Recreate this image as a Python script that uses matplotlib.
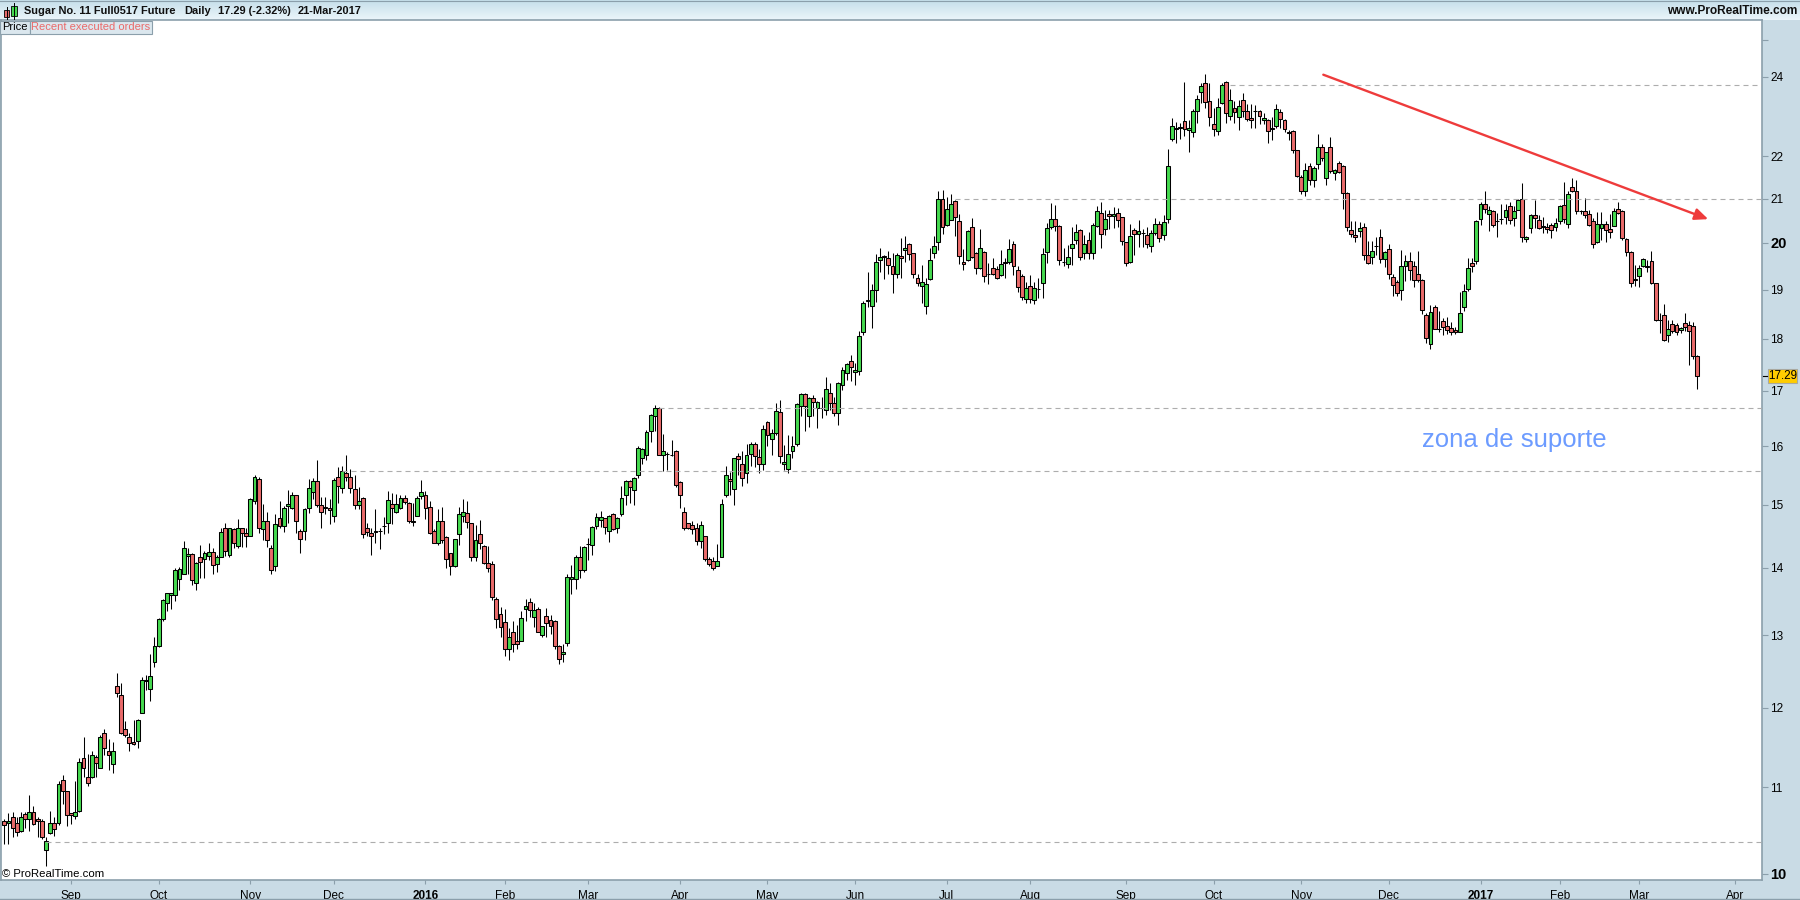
import numpy as np
import matplotlib
matplotlib.use('Agg')
import matplotlib.pyplot as plt
from matplotlib.colors import LinearSegmentedColormap
from matplotlib.patches import Rectangle
from matplotlib.ticker import NullLocator

plt.rcParams['font.family'] = ['Liberation Sans', 'DejaVu Sans']

# Daily candles, oldest first
opens = [
    10.60,10.58,10.64,10.58,10.48,10.68,10.62,10.71,10.62,10.60,
    10.27,10.46,10.58,10.58,11.09,10.95,10.69,10.66,10.72,11.36,
    11.12,11.12,11.37,11.24,11.67,11.44,11.29,12.30,12.17,11.72,
    11.62,11.56,11.57,11.94,12.36,12.25,12.62,12.84,13.23,13.47,
    13.58,13.58,13.82,13.91,14.18,14.21,13.77,14.16,14.14,14.18,
    14.24,14.05,14.16,14.63,14.20,14.60,14.33,14.62,14.54,14.49,
    15.06,15.43,14.60,14.74,14.30,14.02,14.79,14.65,14.98,14.94,
    15.16,14.57,14.57,14.94,15.22,15.40,15.00,14.96,14.95,14.82,
    15.47,15.28,15.54,15.47,15.26,15.00,15.11,14.62,14.54,14.56,
    14.57,14.65,14.70,15.01,14.88,14.94,15.12,15.03,14.74,14.82,
    15.14,15.16,14.96,14.57,14.38,14.73,14.48,14.22,14.02,14.52,
    14.82,14.87,14.70,14.16,14.52,14.34,14.07,14.05,13.52,13.30,
    13.19,12.81,13.05,12.91,12.92,13.38,13.48,13.26,13.38,13.00,
    13.28,13.22,13.20,12.84,12.73,12.89,13.82,13.82,14.16,13.97,
    14.37,14.36,14.66,14.76,14.78,14.57,14.85,14.62,14.85,15.16,
    15.40,15.25,15.50,15.79,15.85,16.27,16.53,16.69,15.84,15.86,
    15.85,15.92,15.38,14.88,14.70,14.67,14.62,14.42,14.49,14.13,
    14.10,14.02,14.16,15.17,15.43,15.26,15.82,15.69,15.53,15.86,
    16.03,15.81,15.69,16.43,16.12,16.23,16.61,15.69,15.60,15.91,
    16.03,16.72,16.95,16.53,16.86,16.68,16.68,16.65,16.97,16.77,
    16.59,17.12,17.33,17.56,17.35,17.37,18.14,18.77,18.67,18.99,
    19.62,19.70,19.68,19.50,19.32,19.71,19.84,19.97,19.77,19.25,
    19.07,18.67,19.22,19.78,20.03,21.00,20.39,20.52,20.94,20.48,
    19.58,19.63,20.35,19.78,19.46,19.80,19.34,19.46,19.43,19.30,
    19.56,19.58,19.97,19.41,19.29,18.80,19.07,18.78,19.01,19.13,
    19.80,20.36,20.53,20.38,19.59,19.54,19.88,20.06,20.29,19.79,
    20.07,19.79,20.38,20.68,20.31,20.64,20.60,20.66,20.57,20.01,
    19.58,20.29,20.20,20.21,20.17,19.93,20.22,20.42,20.17,20.53,
    22.42,22.68,22.70,22.86,22.63,22.58,23.11,23.60,23.85,23.37,
    22.78,22.61,23.33,23.88,23.00,23.20,22.98,23.39,23.13,22.93,
    23.12,23.11,22.88,22.88,22.67,22.73,23.10,22.88,22.58,22.61,
    22.16,21.50,21.17,21.77,21.44,21.81,22.23,21.47,22.23,21.59,
    21.83,21.76,21.12,20.28,20.17,20.27,20.35,19.73,19.69,19.94,
    20.13,19.64,19.86,19.27,19.17,18.99,19.51,19.60,19.49,19.32,
    19.21,18.48,17.89,18.64,18.20,18.35,18.25,18.21,18.17,18.13,
    18.64,19.01,19.56,19.60,20.53,20.87,20.64,20.72,20.49,20.54,
    20.58,20.83,20.56,20.74,20.99,20.08,20.34,20.63,20.51,20.37,
    20.35,20.39,20.35,20.49,20.85,20.43,21.26,21.17,20.72,20.71,
    20.64,20.48,20.02,20.34,20.41,20.32,20.38,20.75,20.71,20.09,
    19.80,19.22,19.28,19.49,19.49,19.60,19.13,18.38,18.47,18.07,
    18.29,18.27,18.17,18.31,18.27,18.25,17.67,
]
highs = [
    10.62,10.69,10.71,10.64,10.71,10.71,10.91,10.78,10.64,10.62,
    10.41,10.72,10.64,11.07,11.15,10.96,10.69,11.07,11.36,11.62,
    11.41,11.45,11.39,11.65,11.72,11.60,11.56,12.47,12.33,11.83,
    11.67,11.84,11.85,12.41,12.44,12.73,12.98,13.25,13.52,13.62,
    13.62,13.99,14.01,14.41,14.31,14.22,14.09,14.35,14.26,14.39,
    14.31,14.20,14.62,14.70,14.63,14.63,14.77,14.63,14.63,15.11,
    15.50,15.47,15.02,14.89,14.35,14.85,15.06,14.98,15.25,15.21,
    15.17,14.60,14.95,15.43,15.45,15.76,15.13,15.13,15.10,15.45,
    15.63,15.65,15.85,15.60,15.50,15.30,15.13,14.70,14.62,14.93,
    14.62,14.80,15.23,15.20,15.18,15.17,15.17,15.05,15.03,15.15,
    15.42,15.23,15.07,14.60,14.93,14.96,14.49,14.23,14.45,14.96,
    15.10,15.07,14.70,14.67,14.76,14.36,14.34,14.11,13.55,13.41,
    13.38,13.10,13.20,13.14,13.35,13.52,13.54,13.46,13.41,13.13,
    13.39,13.29,13.22,12.86,12.88,13.90,14.04,14.19,14.34,14.34,
    14.47,14.66,14.87,14.90,14.79,14.84,14.87,14.80,15.31,15.41,
    15.41,15.46,16.00,15.96,16.29,16.57,16.74,16.70,16.22,15.90,
    16.11,15.94,15.40,14.96,14.71,14.74,14.70,14.73,14.50,14.17,
    14.16,14.37,15.10,15.65,15.55,15.80,15.88,15.91,16.03,16.07,
    16.07,15.95,16.37,16.45,16.30,16.77,16.84,16.02,16.19,16.17,
    16.77,16.96,16.96,16.88,16.92,16.81,16.89,17.27,17.15,16.88,
    17.17,17.45,17.53,17.68,17.53,18.15,18.77,19.37,19.12,19.75,
    19.90,19.74,19.82,19.78,19.78,20.12,20.16,19.99,19.79,19.33,
    19.52,19.25,19.90,20.15,21.17,21.20,21.03,21.11,20.96,20.65,
    19.87,20.29,20.55,19.80,20.32,19.82,19.56,19.67,19.50,19.85,
    19.67,20.09,20.05,19.50,19.32,19.15,19.30,19.17,19.24,19.88,
    20.44,20.89,20.86,20.40,19.88,19.95,20.35,20.42,20.31,20.17,
    20.25,20.44,20.82,20.92,20.74,20.74,20.80,20.78,20.58,20.03,
    20.42,20.33,20.51,20.31,20.36,20.29,20.55,20.48,20.62,22.17,
    22.93,22.85,22.82,23.87,22.89,23.16,23.53,23.85,24.07,23.85,
    23.20,23.45,23.85,23.90,23.68,23.37,23.40,23.57,23.29,23.31,
    23.27,23.14,23.08,22.91,22.97,23.29,23.18,22.91,22.63,22.65,
    22.16,21.54,21.83,21.83,21.76,22.55,22.29,22.11,22.47,21.70,
    21.88,21.78,21.15,20.48,20.48,20.46,20.44,20.04,20.04,20.13,
    20.31,19.82,19.98,19.34,19.21,19.84,19.73,19.80,19.61,19.82,
    19.23,18.52,18.68,18.69,18.55,18.41,18.44,18.34,18.24,18.95,
    19.12,19.67,19.67,20.51,20.93,21.18,20.83,20.74,20.67,20.88,
    20.88,20.91,20.82,20.99,21.35,20.15,20.64,20.97,20.63,20.58,
    20.44,20.44,20.56,20.85,21.39,21.18,21.47,21.43,20.74,21.01,
    20.74,20.55,20.69,20.69,20.48,20.64,20.78,20.92,20.74,20.11,
    19.83,19.52,19.52,19.67,19.63,19.83,19.14,18.52,18.70,18.38,
    18.38,18.32,18.24,18.52,18.36,18.34,17.68,
]
lows = [
    10.34,10.34,10.41,10.43,10.47,10.52,10.48,10.55,10.41,10.39,
    10.09,10.45,10.43,10.55,10.80,10.54,10.57,10.62,10.71,11.12,
    11.02,11.11,11.12,11.23,11.39,11.21,11.17,12.14,11.66,11.62,
    11.44,11.52,11.48,11.94,12.24,12.09,12.55,12.83,13.21,13.35,
    13.38,13.50,13.66,13.90,13.91,13.73,13.66,13.84,13.84,14.12,
    13.90,13.93,14.16,14.18,14.16,14.31,14.31,14.32,14.32,14.49,
    15.01,14.54,14.43,14.32,13.90,13.95,14.63,14.56,14.70,14.93,
    14.54,14.23,14.43,14.86,15.10,14.96,14.63,14.85,14.69,14.72,
    15.03,15.20,15.40,15.20,14.93,14.93,14.47,14.49,14.19,14.38,
    14.29,14.52,14.54,14.69,14.86,14.93,15.02,14.71,14.66,14.81,
    15.10,14.77,14.52,14.38,14.36,14.38,14.00,13.89,14.01,14.35,
    14.72,14.62,14.11,14.10,14.29,14.05,13.93,13.51,13.10,12.97,
    12.71,12.65,12.76,12.81,12.92,13.20,13.26,13.12,13.04,12.98,
    12.98,13.02,12.81,12.60,12.62,12.84,13.60,13.67,13.84,13.93,
    14.12,14.19,14.60,14.64,14.52,14.40,14.59,14.54,14.82,15.00,
    15.03,15.00,15.45,15.69,15.75,16.08,16.27,15.84,15.57,15.58,
    15.83,15.30,14.95,14.59,14.60,14.52,14.36,14.30,14.10,14.02,
    13.97,14.02,14.16,15.13,15.17,14.99,15.50,15.32,15.37,15.65,
    15.63,15.53,15.59,16.01,15.85,16.19,15.70,15.59,15.53,15.79,
    16.00,16.54,16.27,16.34,16.54,16.32,16.50,16.56,16.65,16.53,
    16.38,17.02,17.21,17.19,17.11,17.30,18.07,18.65,18.22,18.75,
    19.37,19.23,19.33,18.94,19.24,19.24,19.58,19.63,19.25,19.07,
    18.73,18.50,19.20,19.67,19.85,20.19,20.37,20.51,20.15,19.54,
    19.41,19.60,19.67,19.33,19.44,19.15,19.11,19.30,19.22,19.28,
    19.25,19.55,19.30,18.96,18.78,18.72,18.72,18.71,18.83,18.83,
    19.57,20.32,20.27,19.53,19.50,19.46,19.52,19.98,19.62,19.66,
    19.66,19.64,20.36,19.89,20.18,20.31,20.33,20.36,19.95,19.51,
    19.57,19.73,19.92,19.92,19.90,19.80,20.17,20.03,20.07,20.44,
    22.37,22.33,22.43,22.49,22.11,22.48,22.81,23.33,23.20,22.75,
    22.50,22.52,23.31,22.81,22.90,22.81,22.63,22.97,22.86,22.68,
    22.68,22.78,22.78,22.33,22.40,22.68,22.68,22.60,22.40,22.08,
    21.50,21.10,21.05,21.31,21.26,21.70,21.88,21.31,21.59,21.44,
    21.59,20.76,20.27,20.13,20.03,20.13,19.62,19.54,19.55,19.74,
    19.56,19.47,19.23,18.86,18.86,18.78,19.18,19.20,19.05,19.15,
    18.50,17.92,17.81,18.19,18.14,18.07,18.09,18.07,18.10,18.13,
    18.55,18.97,19.38,19.54,20.39,20.67,20.27,20.35,20.13,20.43,
    20.43,20.41,20.37,20.74,20.03,20.02,20.22,20.34,20.31,20.23,
    20.23,20.10,20.26,20.41,20.44,20.34,21.15,20.64,20.65,20.55,
    20.37,19.88,20.00,20.07,20.03,20.11,20.37,20.65,20.07,19.72,
    19.06,19.07,19.06,19.48,19.38,19.11,18.35,18.12,17.95,17.93,
    18.12,18.07,18.12,18.15,17.49,17.61,17.03,
]
closes = [
    10.55,10.60,10.52,10.47,10.65,10.62,10.71,10.57,10.60,10.41,
    10.37,10.58,10.51,11.04,10.96,10.67,10.67,10.71,11.31,11.24,
    11.05,11.40,11.30,11.63,11.49,11.39,11.45,12.20,11.67,11.65,
    11.55,11.53,11.84,12.38,12.37,12.43,12.85,13.23,13.51,13.61,
    13.61,13.96,13.98,14.31,14.21,13.81,14.07,14.09,14.23,14.24,
    14.04,14.16,14.56,14.26,14.62,14.39,14.62,14.54,14.49,15.10,
    15.46,14.62,14.73,14.43,13.96,14.68,14.66,14.94,15.01,15.16,
    14.74,14.44,14.93,15.28,15.40,14.99,14.89,14.95,14.92,15.41,
    15.31,15.57,15.47,15.28,14.99,15.06,14.52,14.56,14.49,14.57,
    14.57,14.66,15.08,14.94,15.01,15.12,15.04,14.73,14.72,15.12,
    15.21,14.94,14.54,14.39,14.73,14.43,14.13,14.02,14.44,14.85,
    14.89,14.72,14.16,14.43,14.39,14.07,13.99,13.56,13.23,13.11,
    12.81,12.97,12.88,12.88,13.25,13.42,13.37,13.37,13.05,13.13,
    13.18,13.13,12.84,12.66,12.76,13.85,13.85,14.16,13.97,14.32,
    14.37,14.64,14.80,14.80,14.64,14.82,14.60,14.79,15.11,15.40,
    15.30,15.45,15.96,15.95,16.25,16.55,16.68,15.85,15.92,15.87,
    15.84,15.33,15.16,14.62,14.62,14.60,14.42,14.67,14.13,14.05,
    13.99,14.10,15.01,15.50,15.40,15.79,15.78,15.45,15.85,16.03,
    15.82,15.69,16.30,16.20,16.23,16.63,15.82,15.72,15.86,16.00,
    16.75,16.95,16.72,16.86,16.79,16.79,16.69,17.04,16.77,16.59,
    17.14,17.39,17.51,17.46,17.39,18.05,18.72,18.78,18.99,19.58,
    19.70,19.71,19.52,19.32,19.73,19.67,19.90,19.75,19.32,19.14,
    19.16,19.12,19.63,19.94,21.00,20.35,20.77,20.87,20.58,19.72,
    19.54,20.27,19.69,19.46,19.89,19.28,19.33,19.34,19.25,19.54,
    19.58,19.87,19.51,19.06,18.85,19.03,18.80,19.03,19.02,19.75,
    20.34,20.53,20.38,19.62,19.58,19.70,19.97,20.24,19.69,19.97,
    19.77,20.40,20.71,20.20,20.53,20.60,20.64,20.50,20.04,19.56,
    20.15,20.20,20.27,20.22,19.97,20.22,20.42,20.11,20.46,21.76,
    22.73,22.67,22.71,22.66,22.68,23.11,23.42,23.77,23.34,22.98,
    22.66,23.23,23.78,23.07,23.39,23.10,23.25,23.13,22.91,22.88,
    23.12,23.00,22.93,22.61,22.68,23.18,22.91,22.66,22.57,22.14,
    21.53,21.18,21.68,21.44,21.71,22.23,21.95,22.09,21.64,21.68,
    21.62,21.12,20.35,20.19,20.13,20.33,19.73,19.56,19.82,19.93,
    19.64,19.80,19.34,19.09,18.93,19.49,19.60,19.42,19.21,19.21,
    18.58,18.01,18.54,18.19,18.20,18.23,18.17,18.13,18.13,18.52,
    18.97,19.46,19.49,20.49,20.87,20.76,20.74,20.39,20.48,20.53,
    20.74,20.51,20.72,20.97,20.13,20.13,20.63,20.56,20.33,20.36,
    20.31,20.28,20.44,20.83,20.53,21.10,21.17,20.72,20.72,20.62,
    20.39,19.97,20.43,20.41,20.28,20.24,20.71,20.66,20.11,19.80,
    19.13,19.21,19.45,19.65,19.48,19.13,18.38,18.38,17.97,18.19,
    18.15,18.13,18.21,18.23,18.15,17.67,17.29,
]

# Bar numbers where each month starts
month_pos = [16, 37, 59, 79, 101, 120, 140, 162, 183, 204, 226, 246, 269, 290, 311, 332, 354, 373, 392, 415]
month_lbl = ['Sep', 'Oct', 'Nov', 'Dec', '2016', 'Feb', 'Mar', 'Apr', 'May', 'Jun', 'Jul', 'Aug',
             'Sep', 'Oct', 'Nov', 'Dec', '2017', 'Feb', 'Mar', 'Apr']
price_ticks = [10, 11, 12, 13, 14, 15, 16, 17, 18, 19, 20, 21, 22, 24, 25]
price_lbl = ['10', '11', '12', '13', '14', '15', '16', '17', '18', '19', '20', '21', '22', '24', '']

# Horizontal levels: price, bar where the line starts
levels = [23.78, 20.99, 16.68, 15.57, 10.36]
level_start = [294, 228, 157, 81, 10]

last_price = 17.29

GREEN = '#45d94f'
RED = '#e96b6b'
STRIP = '#c9dbe5'
EDGE = '#8b9fab'

opens = np.array(opens)
highs = np.array(highs)
lows = np.array(lows)
closes = np.array(closes)
idx = np.arange(len(opens))

fig = plt.figure(figsize=(18, 9), dpi=100, facecolor=STRIP)

# Window chrome behind the chart, in pixels
chrome = fig.add_axes([0, 0, 1, 1], zorder=0)
cmap = LinearSegmentedColormap.from_list('head', ['#c6dfea', '#eaf5fa'])
chrome.imshow(np.linspace(0, 1, 20).reshape(-1, 1), cmap=cmap, aspect='auto', extent=(0, 1800, 20, 0))
chrome.set_xlim(0, 1800)
chrome.set_ylim(900, 0)
chrome.axis('off')

# Main price panel
ax = fig.add_axes([1 / 1800, 20 / 900, 1761 / 1800, 860 / 900], zorder=1)
ax.set_facecolor('white')
ax.set_yscale('log')
ax.set_xlim(-0.79, 421.5)
ax.set_ylim(9.934, 25.55)

ax.vlines(idx, lows, highs, color='black', lw=0.75, zorder=2)
up = closes >= opens
ax.bar(idx, np.abs(closes - opens), bottom=np.minimum(opens, closes), width=0.92,
       color=[GREEN if u else RED for u in up], edgecolor='black', linewidth=0.75, zorder=2.5)

for price, start in zip(levels, level_start):
    ax.plot([start, 421.5], [price, price], color='#adadad', lw=0.8, dashes=(4.5, 3.6), zorder=3)

# Trend arrow
ax.annotate('', xy=(408.6, 20.53), xytext=(316.3, 24.06),
            arrowprops=dict(arrowstyle='-|>,head_length=0.8,head_width=0.35', color='#ee3b3b', lw=1.7,
                            shrinkA=0, shrinkB=0), zorder=4)
ax.text(362.1, 16.11, 'zona de suporte', color='#6c9bff', fontsize=18.5, ha='center', va='center', zorder=4)

ax.yaxis.tick_right()
ax.set_yticks(price_ticks)
ax.set_yticklabels(price_lbl)
ax.yaxis.set_minor_locator(NullLocator())
ax.set_xticks(month_pos)
ax.set_xticklabels(month_lbl)
ax.tick_params(axis='y', which='major', length=4, width=0.8, color=EDGE, labelsize=8.5, pad=2, labelcolor='black')
ax.tick_params(axis='x', which='major', length=3, width=0.8, color=EDGE, labelsize=8.5, pad=4, labelcolor='black')
for lbl in ax.get_xticklabels():
    if lbl.get_text() in ('2016', '2017'):
        lbl.set_fontweight('bold')
for lbl in ax.get_yticklabels():
    if lbl.get_text() in ('10', '20'):
        lbl.set_fontweight('bold')
        lbl.set_fontsize(10.5)
for side in ax.spines.values():
    side.set_color(EDGE)
    side.set_linewidth(1.2)

# Everything on top of the chart, in pixels
over = fig.add_axes([0, 0, 1, 1], zorder=5)
over.patch.set_alpha(0)
over.set_xlim(0, 1800)
over.set_ylim(900, 0)
over.axis('off')

# Window border lines
over.plot([0, 1800], [0.5, 0.5], color=EDGE, lw=0.8)
over.plot([0, 1800], [898.8, 898.8], color=EDGE, lw=1.0)

# Header icon
over.plot([7, 7], [7, 19], color='black', lw=0.7)
over.add_patch(Rectangle((4, 10), 5, 7, fc=RED, ec='black', lw=0.6))
over.plot([14, 14], [3, 19], color='black', lw=0.7)
over.add_patch(Rectangle((11, 6), 6, 10, fc=GREEN, ec='black', lw=0.6))

head = dict(fontsize=7.9, fontweight='bold', va='center', color='#101010')
over.text(24, 11, 'Sugar No. 11 Full0517 Future', **head)
over.text(184, 11, 'Daily', **head)
over.text(218, 11, '17.29 (-2.32%)', **head)
over.text(298, 11, '21-Mar-2017', **head)
over.text(1797, 11, 'www.ProRealTime.com', ha='right', fontsize=8.6, fontweight='bold', va='center', color='#101010')

# Panel tabs
over.add_patch(Rectangle((0, 21), 29.5, 13, fc='#dbe7ee', ec=EDGE, lw=0.8))
over.add_patch(Rectangle((29.5, 21), 122, 13, fc='#dbe7ee', ec=EDGE, lw=0.8))
over.text(2.5, 27.5, 'Price', fontsize=8.0, va='center', color='black')
over.text(31, 27.5, 'Recent executed orders', fontsize=8.0, va='center', color='#ea6a6a')

over.text(2.5, 874, '\u00a9 ProRealTime.com', fontsize=8.2, va='center', color='black')

# Last price tag
over.plot([1763, 1767], [375.5, 375.5], color='black', lw=0.8)
over.add_patch(Rectangle((1768, 369), 29, 14, fc='#ffcc00', ec='#a9a9a0', lw=0.8))
over.text(1782.5, 376, '%.2f' % last_price, fontsize=8.4, ha='center', va='center', color='black')

fig.savefig('out.png', dpi=100, facecolor=fig.get_facecolor())
